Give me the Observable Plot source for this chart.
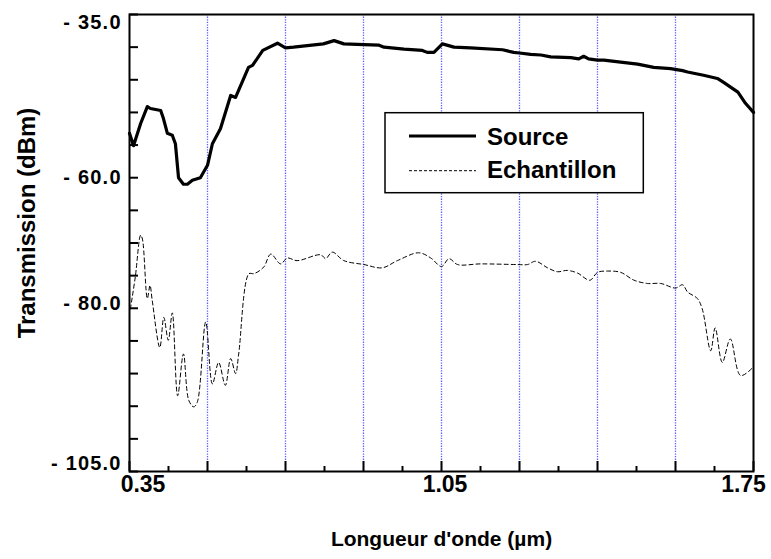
<!DOCTYPE html>
<html><head><meta charset="utf-8">
<script src="https://cdn.jsdelivr.net/npm/d3@7"></script>
<script src="https://cdn.jsdelivr.net/npm/@observablehq/plot@0.6"></script>
<style>
body{margin:0;background:#fff}
#chart{width:771px;height:559px}
</style></head><body><div id="chart"></div>
<script>
// Source (thick solid line)
const sourceX = [0.350,0.359,0.375,0.390,0.397,0.420,0.426,0.435,0.446,0.453,0.460,0.471,0.480,0.491,0.509,0.525,0.536,0.554,0.577,0.588,0.617,0.626,0.649,0.682,0.700,0.718,0.785,0.809,0.831,0.876,0.910,0.921,0.966,1.007,1.018,1.033,1.052,1.078,1.115,1.187,1.212,1.225,1.250,1.273,1.295,1.340,1.358,1.369,1.380,1.400,1.414,1.452,1.490,1.526,1.564,1.591,1.602,1.638,1.669,1.683,1.715,1.732,1.750];
const sourceY = [-53.2,-55.1,-51.7,-49.1,-49.4,-49.7,-50.9,-53.2,-53.5,-54.8,-60.0,-61.0,-61.0,-60.4,-60.0,-58.1,-54.8,-52.5,-47.4,-47.7,-43.1,-42.8,-40.5,-39.4,-40.1,-40.0,-39.5,-39.0,-39.5,-39.6,-39.7,-40.0,-40.3,-40.5,-40.8,-40.8,-39.5,-40.0,-40.1,-40.4,-40.8,-40.9,-41.1,-41.2,-41.5,-41.6,-41.8,-41.4,-41.8,-42.0,-42.0,-42.3,-42.6,-43.1,-43.3,-43.6,-43.8,-44.3,-44.8,-45.4,-46.9,-48.6,-50.0];
// Echantillon (thin dashed line)
const echX = [0.352,0.363,0.375,0.379,0.390,0.396,0.401,0.418,0.427,0.437,0.446,0.458,0.471,0.483,0.494,0.502,0.521,0.536,0.550,0.565,0.577,0.588,0.595,0.618,0.629,0.651,0.667,0.689,0.704,0.726,0.779,0.790,0.805,0.831,0.876,0.917,0.951,0.999,1.026,1.050,1.067,1.086,1.138,1.220,1.243,1.261,1.288,1.310,1.332,1.355,1.383,1.400,1.422,1.452,1.482,1.512,1.542,1.575,1.591,1.602,1.624,1.635,1.654,1.664,1.680,1.698,1.721,1.748];
const echY = [-80.1,-75.2,-68.8,-69.4,-78.5,-76.5,-78.8,-86.0,-81.4,-84.9,-80.7,-93.4,-87.0,-94.1,-95.1,-94.4,-82.1,-91.6,-88.3,-91.8,-87.7,-90.0,-87.0,-74.7,-74.7,-73.7,-71.7,-73.2,-72.3,-72.7,-71.8,-72.4,-71.4,-72.7,-73.3,-73.8,-72.7,-71.5,-72.3,-73.6,-72.4,-73.3,-73.2,-73.3,-73.3,-72.8,-73.8,-74.4,-74.2,-74.6,-75.7,-74.5,-74.3,-74.5,-75.7,-76.2,-76.2,-76.9,-76.4,-77.5,-78.5,-80.1,-86.5,-83.0,-88.3,-84.7,-90.3,-89.1];

const yTicks = [-35,-40,-45,-50,-55,-60,-65,-70,-75,-80,-85,-90,-95,-100,-105];
const yLabelTicks = [-35,-60,-80,-105];
const xMajorTicks = [0.35,0.525,0.7,0.875,1.05,1.225,1.4,1.575,1.75];
const xMinorTicks = [0.4375,0.6125,0.7875,0.9625,1.1375,1.3125,1.4875,1.6625];
const xLabelTicks = [0.35,1.05,1.75];
const gridX = [0.525,0.7,0.875,1.05,1.225,1.4,1.575];
const seriesNames = ["Source","Echantillon"];
const xTitle = "Longueur d'onde (µm)";
const yTitle = "Transmission (dBm)";

const font = "'Liberation Sans', Arial, Helvetica, sans-serif";
const source = sourceX.map((x, i) => ({x, y: sourceY[i]}));
const ech = echX.map((x, i) => ({x, y: echY[i]}));
const yFmt = d => "- " + Math.abs(d).toFixed(1);
const xFmt = d => d.toFixed(2);

const yLab = (filter, dy) => Plot.text(yLabelTicks, {filter, y: d => d, text: yFmt, frameAnchor: "left", textAnchor: "end", dx: -7.8, dy, fontSize: 20, fontWeight: "bold", fill: "#000"});
const xLab = (filter, dx) => Plot.text(xLabelTicks, {filter, x: d => d, text: xFmt, frameAnchor: "bottom", textAnchor: "middle", dy: 20.5, dx, fontSize: 23, fontWeight: "bold", fill: "#000"});

const svg = Plot.plot({
  width: 771, height: 559,
  marginLeft: 129, marginRight: 18, marginTop: 14, marginBottom: 88,
  style: {fontFamily: font, background: "#fff", overflow: "visible"},
  x: {domain: [0.35, 1.75]},
  y: {domain: [-105, -35]},
  marks: [
    Plot.ruleX(gridX, {stroke: "#5c5cff", strokeWidth: 1.3, strokeDasharray: "1.3,1.3"}),
    Plot.line(ech, {x: "x", y: "y", stroke: "#000", strokeWidth: 1, strokeDasharray: "4,3", curve: "catmull-rom"}),
    Plot.line(source, {x: "x", y: "y", stroke: "#000", strokeWidth: 3.2, strokeLinejoin: "round"}),
    Plot.frame({stroke: "#000", strokeWidth: 2}),
    Plot.axisY(yTicks, {tickSize: -9, strokeWidth: 2, text: null, label: null}),
    Plot.axisX(xMajorTicks, {tickSize: -10, strokeWidth: 2, text: null, label: null}),
    Plot.axisX(xMinorTicks, {tickSize: -5, strokeWidth: 2, text: null, label: null}),
    yLab(d => d === -35, 7.7),
    yLab(d => d === -60, 0),
    yLab(d => d === -80, -4.5),
    yLab(d => d === -105, -7.5),
    xLab(d => d === 0.35, 13.5),
    xLab(d => d === 1.05, 3.5),
    xLab(d => d === 1.75, -10),
    Plot.text([xTitle], {frameAnchor: "bottom", textAnchor: "middle", dy: 74, fontSize: 21, fontWeight: "bold", fill: "#000"}),
    Plot.text([yTitle], {frameAnchor: "left", textAnchor: "middle", rotate: -90, dx: -102.5, dy: -20, fontSize: 24, fontWeight: "bold", fill: "#000"})
  ]
});

// widen the y tick labels as in the reference
d3.select(svg).selectAll("text")
  .filter(function() { return /^- \d/.test(this.textContent); })
  .style("letter-spacing", "1.2px");

// Legend box
const lg = d3.select(svg).append("g").attr("font-family", font).attr("text-anchor", "start");
lg.append("rect").attr("x", 385).attr("y", 112.7).attr("width", 258.3).attr("height", 80)
  .attr("fill", "#fff").attr("stroke", "#000").attr("stroke-width", 1.5);
lg.append("line").attr("x1", 409).attr("x2", 476).attr("y1", 136).attr("y2", 136)
  .attr("stroke", "#000").attr("stroke-width", 3);
lg.append("line").attr("x1", 409).attr("x2", 476).attr("y1", 170.7).attr("y2", 170.7)
  .attr("stroke", "#000").attr("stroke-width", 1).attr("stroke-dasharray", "3,2");
lg.append("text").attr("x", 487).attr("y", 136).attr("dy", "0.36em").attr("font-size", 24)
  .attr("font-weight", "bold").attr("text-anchor", "start").text(seriesNames[0]);
lg.append("text").attr("x", 487).attr("y", 169).attr("dy", "0.36em").attr("font-size", 24)
  .attr("font-weight", "bold").attr("text-anchor", "start").text(seriesNames[1]);

document.getElementById("chart").appendChild(svg);
</script></body></html>
